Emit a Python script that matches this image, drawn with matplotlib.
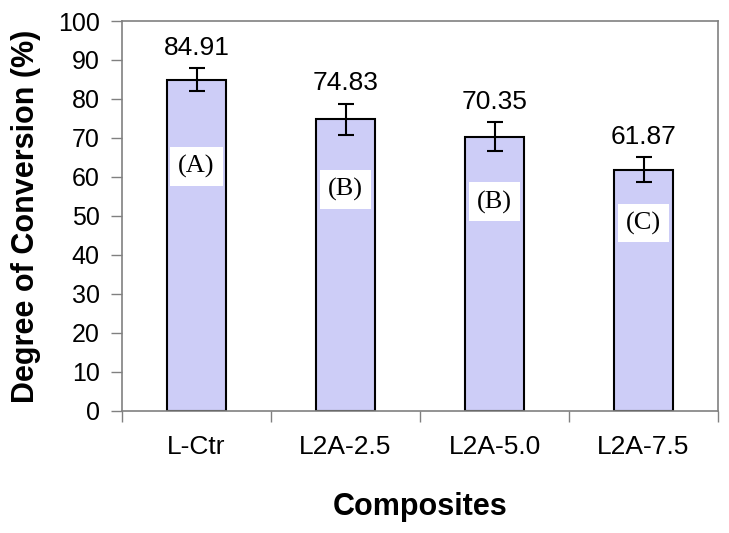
import matplotlib
matplotlib.use("Agg")
import matplotlib.pyplot as plt

# Data
composites = ["L-Ctr", "L2A-2.5", "L2A-5.0", "L2A-7.5"]
conversion = [84.91, 74.83, 70.35, 61.87]
conv_err = [2.95, 4.0, 3.7, 3.25]
groups = ["(A)", "(B)", "(B)", "(C)"]
group_y = [62.6, 56.7, 53.6, 48.2]

plt.rcParams["font.family"] = ["Liberation Sans", "DejaVu Sans"]

fig = plt.figure(figsize=(7.29, 5.33), dpi=100)
ax = fig.add_axes([0.1674, 0.2289, 0.8176, 0.7317])

x = list(range(len(composites)))
ax.bar(x, conversion, width=0.40, color="#cdcdf7", edgecolor="black",
       linewidth=1.5, zorder=2)
ax.errorbar(x, conversion, yerr=conv_err, fmt="none", ecolor="black",
            elinewidth=1.5, capsize=5.5, capthick=1.5, zorder=3)

# value labels above error bars
for xi, v, e in zip(x, conversion, conv_err):
    ax.annotate(f"{v:.2f}", xy=(xi, v + e), xytext=(0, 9.5),
                textcoords="offset points", ha="center", va="baseline",
                fontsize=19)

# significance group letters
for xi, g, gy in zip(x, groups, group_y):
    ax.text(xi, gy, g, ha="center", va="center", fontsize=19,
            family=["Liberation Serif", "DejaVu Serif"], zorder=4,
            bbox=dict(boxstyle="square,pad=0.3", facecolor="white",
                      edgecolor="none"))

ax.set_xlim(-0.5, len(composites) - 0.5)
ax.set_ylim(0, 100)
ax.set_yticks(range(0, 101, 10))
ax.set_xticks(x)
ax.set_xticklabels(composites, fontsize=19)
ax.set_xticks([i - 0.5 for i in range(len(composites) + 1)], minor=True)
ax.tick_params(axis="x", which="major", length=0, pad=17)
ax.tick_params(axis="x", which="minor", length=8, width=1, color="#808080",
               direction="out")
ax.tick_params(axis="y", labelsize=18, length=8, width=1, color="#808080",
               direction="out", pad=8)

for side in ["top", "right", "left", "bottom"]:
    ax.spines[side].set_color("#808080")
    ax.spines[side].set_linewidth(1.2)

ax.set_ylabel("Degree of Conversion (%)", fontsize=22, fontweight="bold",
              labelpad=12)
ax.set_xlabel("Composites", fontsize=22, fontweight="bold", labelpad=24)

plt.savefig("out.png", dpi=100)
